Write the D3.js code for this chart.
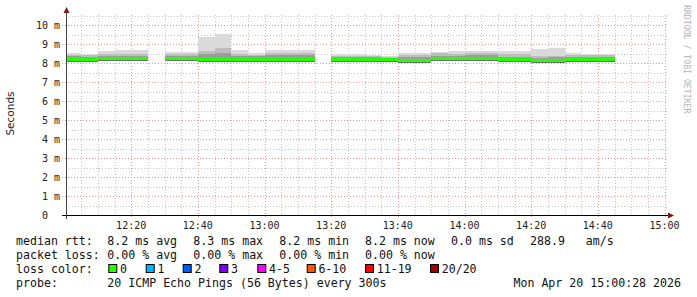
<!DOCTYPE html>
<html><head><meta charset="utf-8">
<script src="https://cdn.jsdelivr.net/npm/d3@7"></script>
<style>body{margin:0;background:#fff}svg{display:block}</style>
</head><body>
<script>
// ---- data ----
const stepTimes = ["12:00","12:05","12:10","12:15","12:20","12:25","12:30","12:35","12:40","12:45","12:50","12:55",
  "13:00","13:05","13:10","13:15","13:20","13:25","13:30","13:35","13:40","13:45","13:50","13:55",
  "14:00","14:05","14:10","14:15","14:20","14:25","14:30","14:35","14:40"];
const median = [8.21,8.21,8.22,8.22,8.22,null,8.25,8.24,8.19,8.19,8.18,8.18,8.17,8.17,8.17,null,8.21,8.21,8.21,8.21,8.16,8.16,8.22,8.22,8.26,8.26,8.19,8.19,8.15,8.15,8.2,8.2,8.2];
const smokeMax = [8.55,8.47,8.63,8.68,8.68,null,8.56,8.56,9.38,9.53,8.68,8.55,8.68,8.68,8.68,null,8.47,8.47,8.41,8.37,8.51,8.51,8.6,8.63,8.65,8.65,8.63,8.63,8.74,8.8,8.55,8.49,8.49];
const smokeUpper = [8.45,8.42,8.5,8.5,8.5,null,8.5,8.5,8.66,8.78,8.5,8.45,8.55,8.55,8.55,null,8.4,8.4,8.36,8.33,8.42,8.42,8.52,8.5,8.55,8.55,8.48,8.48,8.4,8.4,8.45,8.42,8.42];
const smokeInner = [8.36,8.34,8.35,8.35,8.35,null,8.4,8.4,8.5,8.52,8.4,8.38,8.42,8.42,8.42,null,8.3,8.3,8.3,8.28,8.3,8.3,8.4,8.37,8.42,8.42,8.34,8.34,8.28,8.3,8.32,8.32,8.32];
const smokeMin = [8.07,8.1,8.1,8.1,8.1,null,8.12,8.12,8.08,8.08,8.1,8.1,8.08,8.08,8.08,null,8.04,8.08,8.1,8.1,8.08,8.08,8.1,8.1,8.15,8.15,8.1,8.1,8.03,8.03,8.1,8.1,8.1];
const yTicks = [0,1,2,3,4,5,6,7,8,9,10];
const xTickLabels = ["12:20","12:40","13:00","13:20","13:40","14:00","14:20","14:40","15:00"];
const lossLabels = ["0","1","2","3","4-5","6-10","11-19","20/20"];
const lossColors = ["#26ff00","#00b8ff","#0059ff","#7e00ff","#ff00ff","#ff5500","#ff0000","#a10000"];
const rttStats = ["8.2 ms avg","8.3 ms max","8.2 ms min","8.2 ms now","0.0 ms sd","288.9   am/s"];
const lossStats = ["0.00 % avg","0.00 % max","0.00 % min","0.00 % now"];
const probeText = "20 ICMP Echo Pings (56 Bytes) every 300s";
const dateText = "Mon Apr 20 15:00:28 2026";

// ---- chart ----
const W=697,H=297;
const svg=d3.select("body").append("svg").attr("width",W).attr("height",H);
const pt=s=>{const [h,m]=s.split(":").map(Number);return new Date(2026,3,20,h,m);};
const x=d3.scaleTime().domain([pt("12:00"),pt("15:00")]).range([64.5,664.5]);
const y=d3.scaleLinear().domain([0,10.5]).range([215.5,15.5]);
const mono="DejaVu Sans Mono";
svg.append("defs").append("clipPath").attr("id","pc").append("rect").attr("x",67).attr("y",10).attr("width",600).attr("height",206);

// grid
const g=svg.append("g");
const minorY=d3.range(0.5,10.6,1);
g.selectAll(".hy").data(minorY).join("line").attr("x1",66).attr("x2",668)
 .attr("y1",d=>Math.round(y(d))+0.5).attr("y2",d=>Math.round(y(d))+0.5)
 .attr("stroke","#c4c4c4").attr("stroke-dasharray","1,2");
const minorX=d3.timeMinute.every(5).range(pt("12:05"),pt("15:01")).filter(d=>d.getMinutes()%20!==0);
g.selectAll(".vx").data(minorX).join("line")
 .attr("x1",d=>Math.round(x(d))+0.5).attr("x2",d=>Math.round(x(d))+0.5).attr("y1",15).attr("y2",215)
 .attr("stroke","#c4c4c4").attr("stroke-dasharray","1,2");
g.selectAll(".my").data(yTicks.slice(1)).join("line").attr("x1",62).attr("x2",668)
 .attr("y1",d=>Math.round(y(d))+0.5).attr("y2",d=>Math.round(y(d))+0.5)
 .attr("stroke","#e49a9a").attr("stroke-dasharray","1,2");
g.selectAll(".mx").data(xTickLabels).join("line")
 .attr("x1",d=>Math.round(x(pt(d)))+0.5).attr("x2",d=>Math.round(x(pt(d)))+0.5).attr("y1",15).attr("y2",218)
 .attr("stroke","#e49a9a").attr("stroke-dasharray","1,2");

// smoke + median
const plot=svg.append("g").attr("clip-path","url(#pc)");
const idx=d3.range(stepTimes.length).filter(i=>median[i]!=null);
const x0=i=>x(pt(stepTimes[i])), x1=i=>x(d3.timeMinute.offset(pt(stepTimes[i]),5));
const band=(lo,hi,color)=>plot.append("g").selectAll("rect").data(idx).join("rect")
  .attr("x",i=>x0(i)).attr("width",i=>x1(i)-x0(i))
  .attr("y",i=>y(hi(i))).attr("height",i=>Math.max(0,lo(i)-y(hi(i))))
  .attr("fill",color).attr("shape-rendering","crispEdges");
band(i=>y(smokeMin[i]),i=>smokeMax[i],"#dadada");
band(i=>y(median[i])+2.5,i=>smokeUpper[i],"#bdbdbd");
band(i=>y(median[i])+2.5,i=>smokeInner[i],"#9c9c9c");
band(i=>y(median[i])+2.5,i=>median[i],"#6e6e6e");
plot.append("g").selectAll("rect").data(idx).join("rect")
  .attr("x",i=>x0(i)).attr("width",i=>x1(i)-x0(i))
  .attr("y",i=>y(median[i])-1.5).attr("height",3)
  .attr("fill",lossColors[0]).attr("shape-rendering","crispEdges");

// axes
svg.append("line").attr("x1",62).attr("x2",669).attr("y1",215.5).attr("y2",215.5).attr("stroke","#000");
svg.append("line").attr("x1",66.5).attr("x2",66.5).attr("y1",219).attr("y2",11).attr("stroke","#444");
svg.append("path").attr("d","M63.5,13 L69.5,13 L66.5,7 Z").attr("fill","#7a1a1a");
svg.append("path").attr("d","M668,212.5 L668,218.5 L674,215.5 Z").attr("fill","#7a1a1a");

svg.append("g").selectAll("text").data(yTicks).join("text")
 .attr("x",60).attr("y",d=>y(d)+3.5).attr("text-anchor","end").attr("xml:space","preserve").style("white-space","pre")
 .attr("font-family",mono).attr("font-size",10).attr("fill","#222").text(d=>d===0?"0  ":d+" m");
svg.append("g").selectAll("text").data(xTickLabels).join("text")
 .attr("x",d=>x(pt(d))).attr("y",229).attr("text-anchor","middle")
 .attr("font-family",mono).attr("font-size",10).attr("fill","#222").text(d=>d);

svg.append("text").attr("transform","translate(14,113.5) rotate(-90)").attr("text-anchor","middle")
 .attr("font-family","DejaVu Sans").attr("font-size",10.5).attr("fill","#222").text("Seconds");
svg.append("text").attr("transform","translate(683.5,5) rotate(90)")
 .attr("font-family",mono).attr("font-size",8.2).attr("fill","#b4b4b4").text("RRDTOOL / TOBI OETIKER");

// legend
const lf=11.6, tcol="#111";
const txt=(xx,yy,s)=>svg.append("text").attr("x",xx).attr("y",yy).attr("font-family",mono)
  .attr("font-size",lf).attr("fill",tcol).attr("xml:space","preserve").style("white-space","pre").text(s);
txt(16,245,"median rtt:");
const rttX=[107.3,193.3,279.3,365,451,530];
rttStats.forEach((s,i)=>txt(rttX[i],245,s));
txt(16,259,"packet loss:");
lossStats.forEach((s,i)=>txt(rttX[i],259,s));
txt(16,273,"loss color:");
const boxX=[108.3,145.7,182.7,219.3,257.3,306.7,365,430];
lossLabels.forEach((s,i)=>{
  svg.append("rect").attr("x",boxX[i]+0.5).attr("y",264.5).attr("width",8).attr("height",8)
    .attr("fill",lossColors[i]).attr("stroke","#000").attr("stroke-width",1);
  txt(boxX[i]+11.7,273,s);
});
txt(16,287,"probe:");
txt(107.3,287,probeText);
svg.append("text").attr("x",681).attr("y",287).attr("text-anchor","end").attr("font-family",mono)
  .attr("font-size",lf).attr("fill",tcol).text(dateText);
</script>
</body></html>
